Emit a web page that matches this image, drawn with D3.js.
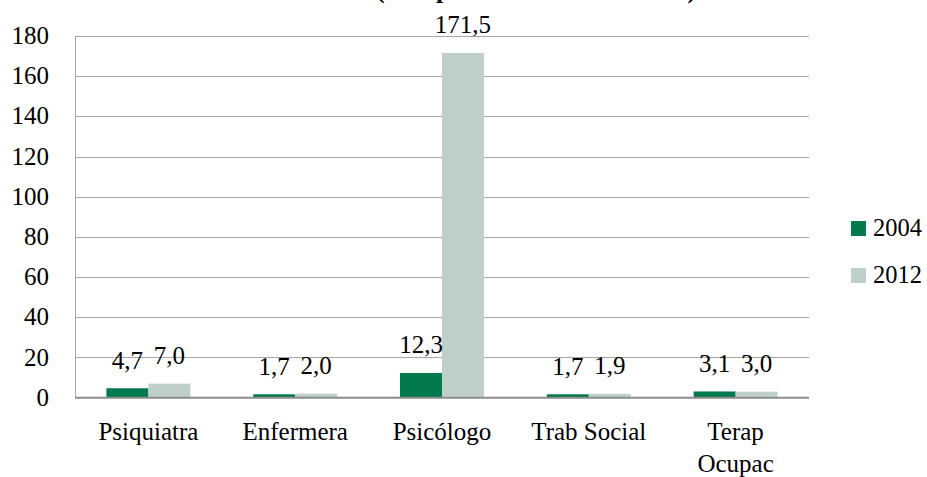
<!DOCTYPE html>
<html><head><meta charset="utf-8"><script src="https://cdn.jsdelivr.net/npm/d3@7"></script></head>
<body style="margin:0">
<svg id="chart" width="927" height="477" style="display:block"></svg>
<script>
const categories = ["Psiquiatra", "Enfermera", "Psicólogo", "Trab Social", "Terap Ocupac"];
const seriesNames = ["2004", "2012"];
const values2004 = [4.7, 1.7, 12.3, 1.7, 3.1];
const values2012 = [7.0, 2.0, 171.5, 1.9, 3.0];
const yTicks = [0, 20, 40, 60, 80, 100, 120, 140, 160, 180];
const titleText = "(tasa por 100.000 habitantes)";
const colors = ["#037a4b", "#bfd0c8"];

const svg = d3.select("#chart");
const mLeft = 75, mRight = 809, mTop = 35.9, mBottom = 397.7;

const x = d3.scaleBand().domain(categories).range([mLeft, mRight]).paddingInner(0.428).paddingOuter(0.214);
const xs = d3.scaleBand().domain(seriesNames).range([0, x.bandwidth()]);
const y = d3.scaleLinear().domain([0, 180]).range([mBottom, mTop]);

// gridlines
svg.selectAll("line.grid").data(yTicks.filter(d => d > 0)).join("line").attr("class", "grid")
  .attr("x1", mLeft).attr("x2", mRight)
  .attr("y1", d => Math.round(y(d)) + 0.5).attr("y2", d => Math.round(y(d)) + 0.5)
  .attr("stroke", "#a6a6a6").attr("stroke-width", 1);

// y axis line
svg.append("line").attr("x1", mLeft + 0.5).attr("x2", mLeft + 0.5).attr("y1", Math.round(mTop)).attr("y2", mBottom)
  .attr("stroke", "#a6a6a6").attr("stroke-width", 1);

// bars
const flat = [];
categories.forEach((c, i) => [values2004[i], values2012[i]].forEach((v, j) => flat.push({ cat: c, v, s: seriesNames[j], j })));
svg.selectAll("rect.bar").data(flat).join("rect").attr("class", "bar")
  .attr("x", d => x(d.cat) + xs(d.s)).attr("width", xs.bandwidth())
  .attr("y", d => y(d.v)).attr("height", d => mBottom - y(d.v))
  .attr("fill", d => colors[d.j]);

// x axis line
svg.append("line").attr("x1", mLeft).attr("x2", mRight).attr("y1", mBottom).attr("y2", mBottom)
  .attr("stroke", "#8c8c8c").attr("stroke-width", 2);

// legend swatches
svg.selectAll("rect.lg").data(seriesNames).join("rect").attr("class", "lg")
  .attr("x", 851).attr("y", (d, i) => 221 + i * 47)
  .attr("width", 15).attr("height", 15).attr("fill", (d, i) => colors[i]);

// all texts (anchored manually, serif font)
const texts = [];
texts.push({ t: titleText, x: 376, y: -2, a: "start", s: 26, b: true });
yTicks.forEach(v => texts.push({ t: String(v), x: 49, y: y(v) + 8, a: "end", s: 25 }));
flat.forEach(d => texts.push({ t: d3.format(".1f")(d.v).replace(".", ","), x: x(d.cat) + xs(d.s) + xs.bandwidth() / 2, y: y(d.v) - 19.5, a: "middle", s: 25 }));
categories.forEach(c => {
  const lines = c === "Terap Ocupac" ? ["Terap", "Ocupac"] : [c];
  lines.forEach((l, i) => texts.push({ t: l, x: x(c) + x.bandwidth() / 2, y: 440 + i * 31.5, a: "middle", s: 25 }));
});
seriesNames.forEach((n, i) => texts.push({ t: n, x: 873, y: 235.5 + i * 47, a: "start", s: 24.5 }));

svg.selectAll("text").data(texts).join("text")
  .attr("y", d => d.y)
  .attr("font-size", d => d.s)
  .attr("font-weight", d => d.b ? "bold" : null)
  .style("font-family", d => '"Liberation Serif"')
  .text(d => d.t)
  .attr("x", function (d) {
    const w = this.getComputedTextLength();
    return d.a === "end" ? d.x - w : d.a === "middle" ? d.x - w / 2 : d.x;
  });
</script>
</body>
</html>
